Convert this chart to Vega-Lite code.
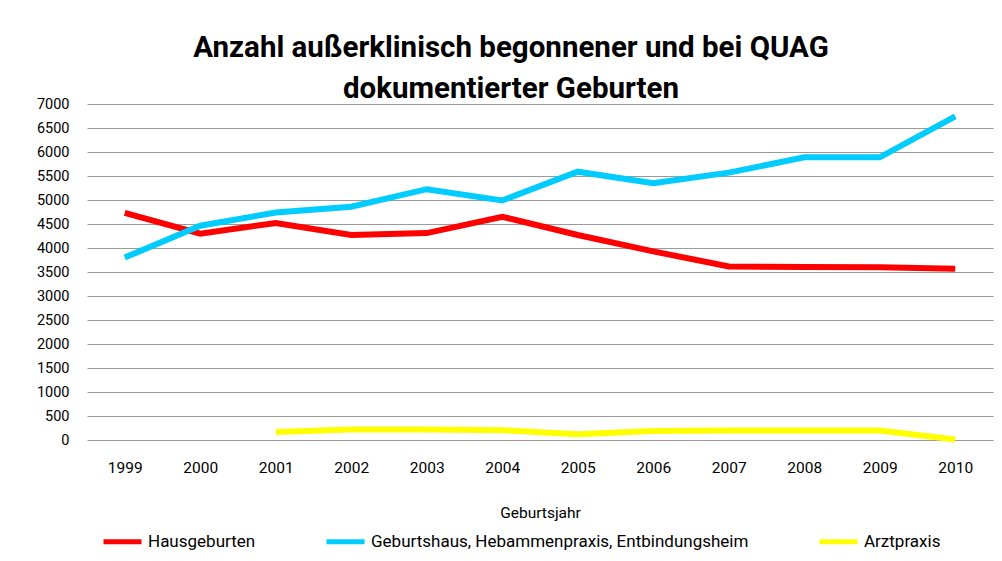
{
  "$schema": "https://vega.github.io/schema/vega-lite/v6.json",
  "width": 906,
  "height": 336,
  "autosize": {"type": "none"},
  "padding": {"left": 87, "top": 104, "right": 9, "bottom": 121},
  "background": "white",
  "title": {
    "text": ["Anzahl außerklinisch begonnener und bei QUAG", "dokumentierter Geburten"],
    "font": "Roboto",
    "fontSize": 29.5,
    "fontWeight": "bold",
    "color": "#000000",
    "lineHeight": 41,
    "offset": -8,
    "dx": -29,
    "anchor": "middle"
  },
  "data": {
    "values": [
      {"year": "1999", "series": "Hausgeburten", "value": 4730},
      {"year": "2000", "series": "Hausgeburten", "value": 4300},
      {"year": "2001", "series": "Hausgeburten", "value": 4520},
      {"year": "2002", "series": "Hausgeburten", "value": 4270},
      {"year": "2003", "series": "Hausgeburten", "value": 4310},
      {"year": "2004", "series": "Hausgeburten", "value": 4650},
      {"year": "2005", "series": "Hausgeburten", "value": 4270},
      {"year": "2006", "series": "Hausgeburten", "value": 3930},
      {"year": "2007", "series": "Hausgeburten", "value": 3615},
      {"year": "2008", "series": "Hausgeburten", "value": 3605},
      {"year": "2009", "series": "Hausgeburten", "value": 3600},
      {"year": "2010", "series": "Hausgeburten", "value": 3570},
      {"year": "1999", "series": "Geburtshaus, Hebammenpraxis, Entbindungsheim", "value": 3800},
      {"year": "2000", "series": "Geburtshaus, Hebammenpraxis, Entbindungsheim", "value": 4465},
      {"year": "2001", "series": "Geburtshaus, Hebammenpraxis, Entbindungsheim", "value": 4740},
      {"year": "2002", "series": "Geburtshaus, Hebammenpraxis, Entbindungsheim", "value": 4860},
      {"year": "2003", "series": "Geburtshaus, Hebammenpraxis, Entbindungsheim", "value": 5225},
      {"year": "2004", "series": "Geburtshaus, Hebammenpraxis, Entbindungsheim", "value": 4990},
      {"year": "2005", "series": "Geburtshaus, Hebammenpraxis, Entbindungsheim", "value": 5590},
      {"year": "2006", "series": "Geburtshaus, Hebammenpraxis, Entbindungsheim", "value": 5350},
      {"year": "2007", "series": "Geburtshaus, Hebammenpraxis, Entbindungsheim", "value": 5570},
      {"year": "2008", "series": "Geburtshaus, Hebammenpraxis, Entbindungsheim", "value": 5890},
      {"year": "2009", "series": "Geburtshaus, Hebammenpraxis, Entbindungsheim", "value": 5890},
      {"year": "2010", "series": "Geburtshaus, Hebammenpraxis, Entbindungsheim", "value": 6740},
      {"year": "2001", "series": "Arztpraxis", "value": 165},
      {"year": "2002", "series": "Arztpraxis", "value": 220},
      {"year": "2003", "series": "Arztpraxis", "value": 220},
      {"year": "2004", "series": "Arztpraxis", "value": 205},
      {"year": "2005", "series": "Arztpraxis", "value": 120},
      {"year": "2006", "series": "Arztpraxis", "value": 185},
      {"year": "2007", "series": "Arztpraxis", "value": 200},
      {"year": "2008", "series": "Arztpraxis", "value": 200},
      {"year": "2009", "series": "Arztpraxis", "value": 200},
      {"year": "2010", "series": "Arztpraxis", "value": 10}
    ]
  },
  "mark": {"type": "line", "strokeWidth": 6, "strokeCap": "butt", "strokeJoin": "miter"},
  "encoding": {
    "x": {
      "field": "year",
      "type": "ordinal",
      "scale": {"type": "point", "padding": 0.5},
      "axis": {
        "title": "Geburtsjahr",
        "labelAngle": 0,
        "labelFont": "Roboto",
        "labelFontSize": 15.5,
        "labelColor": "#000000",
        "labelPadding": 20,
        "ticks": false,
        "domain": false,
        "grid": false,
        "titleFont": "Roboto",
        "titleFontSize": 15.5,
        "titleFontWeight": "normal",
        "titleColor": "#000000",
        "titlePadding": 30
      }
    },
    "y": {
      "field": "value",
      "type": "quantitative",
      "scale": {"domain": [0, 7000], "nice": false},
      "axis": {
        "title": null,
        "format": "d",
        "values": [0, 500, 1000, 1500, 2000, 2500, 3000, 3500, 4000, 4500, 5000, 5500, 6000, 6500, 7000],
        "labelFont": "Roboto",
        "labelFontSize": 14.5,
        "labelColor": "#000000",
        "labelPadding": 18,
        "ticks": false,
        "domain": false,
        "grid": true,
        "gridColor": "#9a9a9a",
        "gridWidth": 1.2
      }
    },
    "color": {
      "field": "series",
      "type": "nominal",
      "scale": {
        "domain": ["Hausgeburten", "Geburtshaus, Hebammenpraxis, Entbindungsheim", "Arztpraxis"],
        "range": ["#ff0000", "#00ccff", "#ffff00"]
      },
      "legend": {
        "title": null,
        "orient": "none",
        "legendX": 14,
        "legendY": 416,
        "direction": "horizontal",
        "symbolType": "stroke",
        "symbolSize": 1444,
        "symbolStrokeWidth": 5,
        "labelFont": "Roboto",
        "labelFontSize": 17,
        "labelColor": "#000000",
        "labelLimit": 500,
        "labelOffset": 4,
        "columnPadding": 60
      }
    }
  },
  "config": {
    "view": {"stroke": null}
  }
}
